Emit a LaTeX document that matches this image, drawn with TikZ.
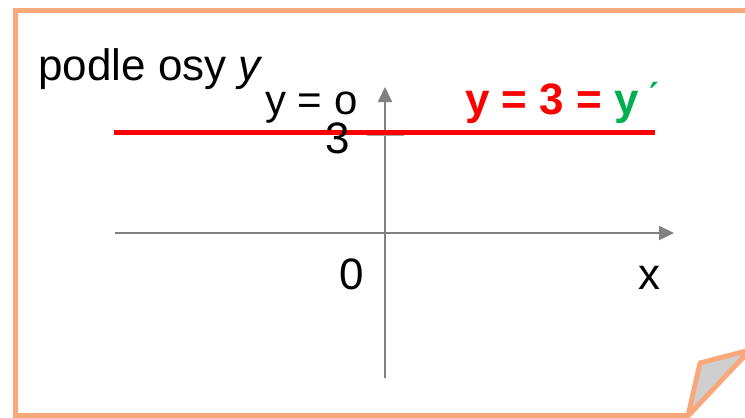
\documentclass[tikz,border=0pt]{standalone}
\usepackage{fontspec}
\setmainfont{Liberation Sans}
\usetikzlibrary{arrows.meta}
\definecolor{frameor}{HTML}{F9A87C}
\definecolor{axgray}{HTML}{808080}
\definecolor{redc}{HTML}{FF0000}
\definecolor{greenc}{HTML}{00B050}
\definecolor{foldgray}{HTML}{CFCFCF}
\begin{document}
\begin{tikzpicture}[x=1pt,y=-1pt,
  lbl/.style={inner sep=0pt,anchor=base west,font=\fontsize{42}{44}\selectfont},
  big/.style={inner sep=0pt,anchor=base west,font=\fontsize{44}{46}\selectfont},
  axis/.style={draw=axgray,line width=2pt,-{Triangle[length=15pt,width=14pt]}},
  frame/.style={draw=frameor,line width=5pt,line join=miter}]
\useasboundingbox (0,0) rectangle (745,418);
\clip (0,0) rectangle (745,418);
% frame
\draw[frame] (688,415) -- (15,415) -- (15,10) -- (760,10);
\filldraw[frame,fill=foldgray,line join=round] (688,416) -- (700,363) -- (750,350) -- cycle;
% axes
\coordinate (xs) at (115,233);
\coordinate (xe) at (674,233);
\coordinate (ys) at (385,378);
\coordinate (ye) at (385,87);
\coordinate (ta) at (367,135);
\coordinate (tb) at (404,135);
\draw[axis] (xs) -- (xe);
\draw[axis] (ys) -- (ye);
\draw[draw=axgray!70,line width=1.5pt] (ta) -- (tb);
% red line
\coordinate (ra) at (114,132);
\coordinate (rb) at (655,132);
\draw[redc,line width=5pt] (ra) -- (rb);
% texts
\node[big] (title) at (38,80) {podle osy \textit{y}};
\node[lbl] (yo) at (265,114) {y = o};
\node[big] (three) at (325,153) {3};
\node[big,text=redc] (eq) at (465,114) {\textbf{y = 3 =} \textcolor{greenc}{\textbf{y}}};
\node[big,text=greenc,anchor=base west] (acc) at ([xshift=7pt,yshift=-7pt]eq.base east) {\'{}};
\node[big] (zero) at (339,289) {0};
\node[big] (xl) at (638,289) {x};
\end{tikzpicture}
\end{document}
